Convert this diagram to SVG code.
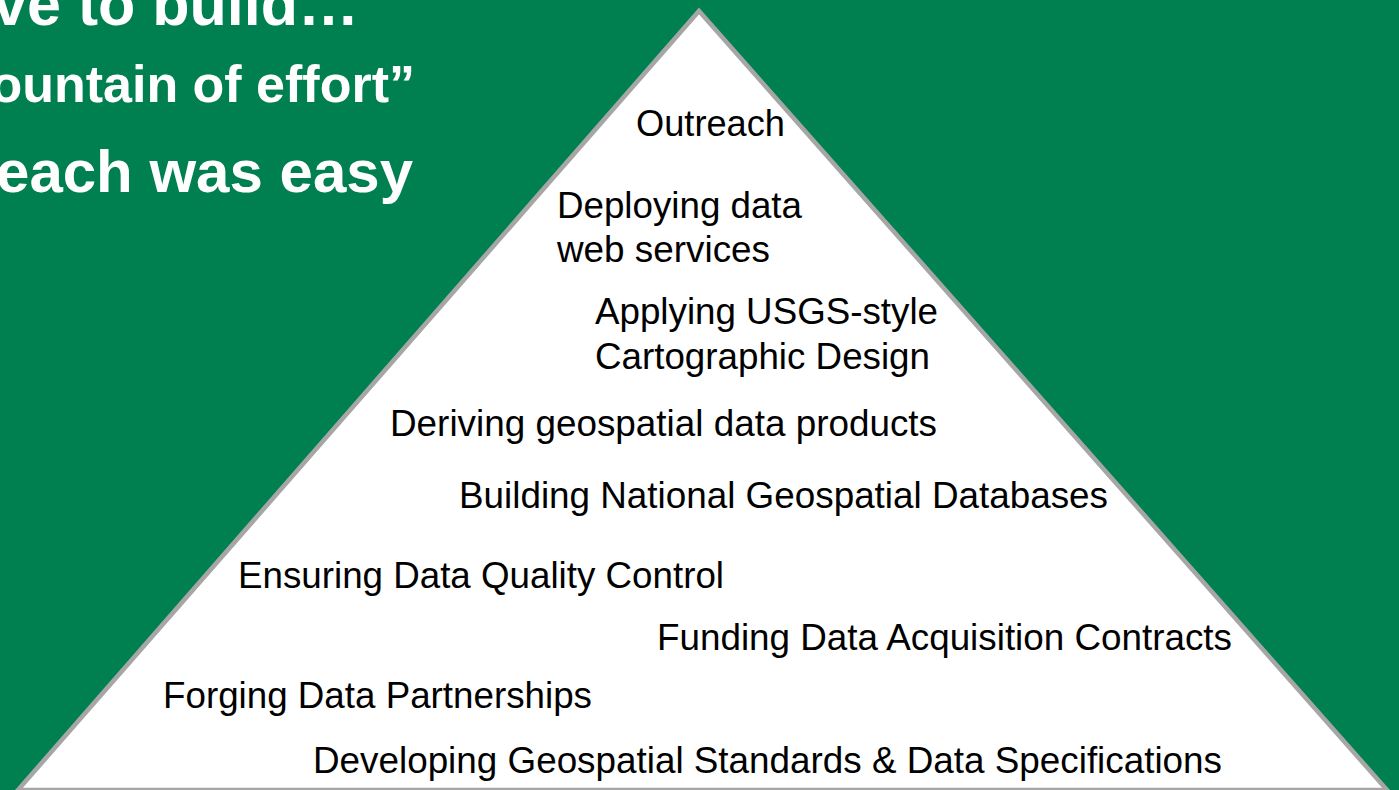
<svg xmlns="http://www.w3.org/2000/svg" width="1399" height="790" viewBox="0 0 1399 790">
<style>
.t{font-family:"Liberation Sans",Arial,sans-serif;font-size:36px;fill:#000}
.h{font-family:"Liberation Sans",Arial,sans-serif;font-weight:bold;fill:#fff}
</style>
<rect x="0" y="0" width="1399" height="790" fill="#008051"/>
<g id="title">
<text class="h" x="359" y="25" font-size="61" text-anchor="end">ve to build…</text>
<text class="h" x="415" y="102" font-size="52" text-anchor="end">ountain of effort”</text>
<text class="h" x="413" y="192" font-size="60" text-anchor="end">each was easy</text>
</g>
<g id="pyramid">
<polygon points="699,11 1387,790 18,790" fill="#fff" stroke="#A6A6A6" stroke-width="4.5" stroke-linejoin="miter"/>
</g>
<g id="labels">
<g id="outreach"><text class="t" x="636" y="136" textLength="149" lengthAdjust="spacingAndGlyphs">Outreach</text></g>
<g id="deploying"><text class="t" x="557" y="218" textLength="245" lengthAdjust="spacingAndGlyphs">Deploying data</text>
<text class="t" x="557" y="262" textLength="213" lengthAdjust="spacingAndGlyphs">web services</text></g>
<g id="applying"><text class="t" x="595" y="324" textLength="343" lengthAdjust="spacingAndGlyphs">Applying USGS-style</text>
<text class="t" x="595" y="369" textLength="335" lengthAdjust="spacingAndGlyphs">Cartographic Design</text></g>
<g id="deriving"><text class="t" x="390" y="436" textLength="547" lengthAdjust="spacingAndGlyphs">Deriving geospatial data products</text></g>
<g id="building"><text class="t" x="459" y="508" textLength="649" lengthAdjust="spacingAndGlyphs">Building National Geospatial Databases</text></g>
<g id="ensuring"><text class="t" x="238" y="588" textLength="486" lengthAdjust="spacingAndGlyphs">Ensuring Data Quality Control</text></g>
<g id="funding"><text class="t" x="657" y="650" textLength="575" lengthAdjust="spacingAndGlyphs">Funding Data Acquisition Contracts</text></g>
<g id="forging"><text class="t" x="163" y="708" textLength="429" lengthAdjust="spacingAndGlyphs">Forging Data Partnerships</text></g>
<g id="developing"><text class="t" x="313" y="773" textLength="909" lengthAdjust="spacingAndGlyphs">Developing Geospatial Standards &amp; Data Specifications</text></g>
</g>
</svg>
